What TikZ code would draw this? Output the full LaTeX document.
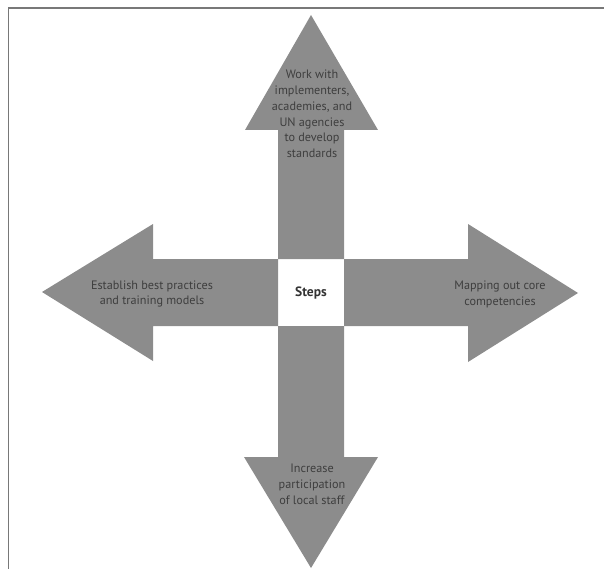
\documentclass[tikz,border=0pt]{standalone}
\usepackage{fontspec}
\setmainfont{PT Sans}
\definecolor{arrowgray}{RGB}{140,140,140}
\definecolor{textgray}{RGB}{62,62,62}
\definecolor{framegray}{RGB}{120,120,120}
\tikzset{
  bigarrow/.style = {fill = arrowgray, draw = none},
  steplabel/.style = {align = center, text = textgray, font = \fontsize{12.2}{15.8}\selectfont, inner sep = 0pt},
}
\begin{document}
\begin{tikzpicture}[x = 1pt, y = -1pt]
          \useasboundingbox (0,0) rectangle (604,569);
          \draw[framegray, line width = 1.5pt] (8.5,569) -- (8.5,8) -- (604,8);

          \fill[bigarrow] (278,259) -- (278,130) -- (245,130) -- (311,15)  -- (378,130) -- (344,130) -- (344,259) -- cycle;
          \fill[bigarrow] (278,259) -- (153,259) -- (153,224) -- (42,292)  -- (153,361) -- (153,326) -- (278,326) -- cycle;
          \fill[bigarrow] (344,259) -- (468,259) -- (468,224) -- (578,293) -- (468,362) -- (468,326) -- (344,326) -- cycle;
          \fill[bigarrow] (278,326) -- (278,457) -- (244,457) -- (311,568) -- (378,457) -- (344,457) -- (344,326) -- cycle;

          \node[font = \fontsize{13.5}{16}\selectfont\bfseries, text = black!80] at (311,293) (steps) {Steps};

          \node[steplabel] at (312,114) (up)    {Work with\\implementers,\\academies, and\\UN agencies\\to develop\\standards};
          \node[steplabel] at (152,294) (left)  {Establish best practices\\and training models};
          \node[steplabel] at (500,294) (right) {Mapping out core\\competencies};
          \node[steplabel] at (312,484) (down)  {Increase\\participation\\of local staff};
        \end{tikzpicture}
\end{document}
